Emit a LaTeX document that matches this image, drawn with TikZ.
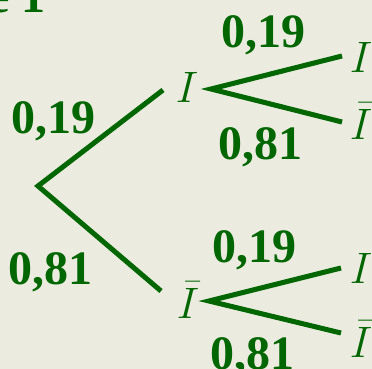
\documentclass[tikz,border=0pt]{standalone}
\usepackage{fix-cm}
\usepackage{fontspec}
\setmainfont{Liberation Serif}
\usetikzlibrary{positioning}
\definecolor{cgreen}{HTML}{006600}
\definecolor{cpaper}{HTML}{ECEBE0}
\tikzset{
  every picture/.style={x=1pt, y=-1pt},
  branch/.style={draw=cgreen, line width=5pt, line join=miter},
  prob/.style={text=cgreen, font=\fontsize{48}{52}\selectfont\bfseries, anchor=base, inner sep=0pt},
  event/.style={text=cgreen, font=\fontsize{44}{48}\selectfont, anchor=base, inner sep=0pt},
}

\begin{document}
\begin{tikzpicture}
  \fill[cpaper] (0,0) rectangle (372,369);
  \useasboundingbox (0,0) rectangle (372,369);
  \clip (0,0) rectangle (372,369);
  \node[prob, anchor=base west] (title) at (-12,13) {e 1};
  % first level
  \coordinate (root) at (38,186);
  \coordinate (up) at (163,90);
  \coordinate (down) at (161,291);
  \draw[branch] (up) -- (root) -- (down);
  \node[event] (I) at (187,102) {$I$};
  \node[event] (Ib) at (188,318) {$\bar{I}$};
  \node[prob] (p1) at (53,133) {0,19};
  \node[prob] (p2) at (51,284) {0,81};
  % second level, after I
  \coordinate (v1) at (211,89);
  \coordinate (v1u) at (342,56);
  \coordinate (v1d) at (342,122);
  \draw[branch] (v1u) -- (v1) -- (v1d);
  \node[event] (II) at (361,72) {$I$};
  \node[event] (IIb) at (361,139) {$\bar{I}$};
  \node[prob] (p11) at (263,48) {0,19};
  \node[prob] (p12) at (260,159) {0,81};
  % second level, after I bar
  \coordinate (v2) at (209,301);
  \coordinate (v2u) at (341,268);
  \coordinate (v2d) at (341,333);
  \draw[branch] (v2u) -- (v2) -- (v2d);
  \node[event] (IbI) at (361,283) {$I$};
  \node[event] (IbIb) at (361,357) {$\bar{I}$};
  \node[prob] (p21) at (254,262) {0,19};
  \node[prob] (p22) at (252,369) {0,81};
\end{tikzpicture}
\end{document}
